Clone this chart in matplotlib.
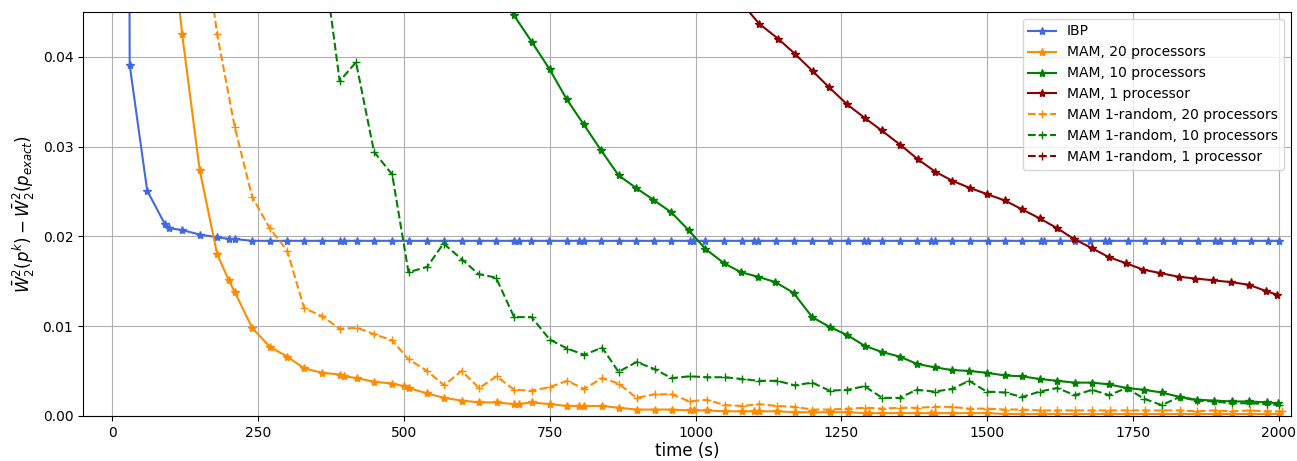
import matplotlib
matplotlib.use("Agg")
import matplotlib.pyplot as plt

# time stamps (s) and errors

ibp_t = [28, 30, 60, 90, 98, 120, 150, 180, 200, 210, 240,
         270, 300, 329, 360, 390, 398, 420, 449, 480, 508,
         540, 568, 599, 628, 658, 688, 697, 718, 748, 779,
         800, 808, 838, 868, 898, 928, 958, 990, 996, 1016,
         1049, 1079, 1100, 1107, 1138, 1168, 1199, 1230, 1261, 1289,
         1296, 1320, 1350, 1380, 1403, 1410, 1440, 1470, 1501, 1530,
         1560, 1592, 1598, 1624, 1650, 1677, 1702, 1709, 1741, 1771,
         1802, 1830, 1861, 1891, 1899, 1923, 1953, 1982, 2001]
ibp_v = [0.09, 0.0391, 0.0251, 0.0214, 0.0209, 0.0207, 0.0202, 0.0199, 0.0197, 0.0197, 0.0195,
         0.0195, 0.0195, 0.0195, 0.0195, 0.0195, 0.0195, 0.0195, 0.0195, 0.0195, 0.0195,
         0.0195, 0.0195, 0.0195, 0.0195, 0.0195, 0.0195, 0.0195, 0.0195, 0.0195, 0.0195,
         0.0195, 0.0195, 0.0195, 0.0195, 0.0195, 0.0195, 0.0195, 0.0195, 0.0195, 0.0195,
         0.0195, 0.0195, 0.0195, 0.0195, 0.0195, 0.0195, 0.0195, 0.0195, 0.0195, 0.0195,
         0.0195, 0.0195, 0.0195, 0.0195, 0.0195, 0.0195, 0.0195, 0.0195, 0.0195, 0.0195,
         0.0195, 0.0195, 0.0195, 0.0195, 0.0195, 0.0195, 0.0195, 0.0195, 0.0195, 0.0195,
         0.0195, 0.0195, 0.0195, 0.0195, 0.0195, 0.0195, 0.0195, 0.0195, 0.0195]

mam20_t = [90, 120, 150, 180, 200, 210, 240, 270, 300, 329,
           360, 390, 398, 420, 449, 480, 500, 508, 540, 569,
           599, 629, 659, 689, 698, 719, 750, 780, 801, 809,
           840, 868, 899, 930, 959, 990, 997, 1019, 1050, 1080,
           1100, 1109, 1140, 1170, 1200, 1230, 1262, 1290, 1298, 1320,
           1350, 1380, 1404, 1411, 1440, 1470, 1500, 1530, 1560, 1590,
           1598, 1620, 1650, 1680, 1703, 1710, 1740, 1770, 1800, 1830,
           1860, 1890, 1898, 1920, 1950, 1980, 2000]
mam20_v = [0.061, 0.0425, 0.0274, 0.0180, 0.0151, 0.0138, 0.0098, 0.0077, 0.0066, 0.0053,
           0.0048, 0.0046, 0.0044, 0.0042, 0.0038, 0.0036, 0.0033, 0.0031, 0.0025, 0.0020,
           0.0017, 0.0015, 0.0015, 0.0013, 0.0013, 0.0015, 0.0013, 0.0011, 0.0011, 0.0011,
           0.0011, 0.0009, 0.0007, 0.0007, 0.0007, 0.0006, 0.0006, 0.0006, 0.0005, 0.0005,
           0.0005, 0.0005, 0.0005, 0.0004, 0.0004, 0.0004, 0.0004, 0.0003, 0.0003, 0.0003,
           0.0003, 0.0003, 0.0003, 0.0003, 0.0003, 0.0003, 0.0003, 0.0002, 0.0002, 0.0002,
           0.0002, 0.0002, 0.0002, 0.0002, 0.0002, 0.0002, 0.0002, 0.0002, 0.0002, 0.0002,
           0.0002, 0.0002, 0.0002, 0.0002, 0.0002, 0.0002, 0.0002]

mam10_t = [658, 688, 719, 750, 779, 808, 838, 868, 898, 927,
           958, 988, 1017, 1049, 1078, 1107, 1137, 1168, 1200, 1230,
           1260, 1290, 1320, 1350, 1379, 1410, 1440, 1469, 1499, 1530,
           1560, 1590, 1620, 1650, 1680, 1709, 1739, 1769, 1799, 1830,
           1859, 1889, 1919, 1949, 1979, 1998]
mam10_v = [0.0485, 0.0447, 0.0417, 0.0386, 0.0353, 0.0325, 0.0296, 0.0268, 0.0254, 0.0241,
           0.0227, 0.0207, 0.0186, 0.0170, 0.0160, 0.0155, 0.0149, 0.0137, 0.0110, 0.0099,
           0.0090, 0.0078, 0.0071, 0.0066, 0.0058, 0.0054, 0.0051, 0.0050, 0.0048, 0.0045,
           0.0044, 0.0041, 0.0039, 0.0037, 0.0037, 0.0035, 0.0031, 0.0029, 0.0026, 0.0021,
           0.0018, 0.0017, 0.0016, 0.0016, 0.0015, 0.0014]

mam1_t = [1079, 1109, 1142, 1171, 1201, 1229, 1260, 1290, 1319, 1351,
          1381, 1411, 1440, 1470, 1500, 1530, 1560, 1590, 1620, 1649,
          1679, 1708, 1738, 1767, 1797, 1828, 1857, 1887, 1918, 1949,
          1978, 1997]
mam1_v = [0.0460, 0.0437, 0.0420, 0.0403, 0.0384, 0.0366, 0.0347, 0.0332, 0.0318, 0.0302,
          0.0286, 0.0272, 0.0262, 0.0254, 0.0247, 0.0240, 0.0230, 0.0220, 0.0209, 0.0197,
          0.0187, 0.0177, 0.0170, 0.0163, 0.0159, 0.0155, 0.0153, 0.0151, 0.0149, 0.0146,
          0.0139, 0.0135]

rnd20_t = [150, 180, 210, 240, 270, 300, 329, 360, 390, 420,
           449, 480, 508, 540, 569, 599, 629, 659, 689, 719,
           750, 780, 809, 840, 868, 899, 930, 959, 990, 1019,
           1050, 1080, 1109, 1140, 1170, 1200, 1230, 1262, 1290, 1320,
           1350, 1380, 1410, 1440, 1470, 1500, 1530, 1560, 1590, 1620,
           1650, 1680, 1710, 1740, 1770, 1800, 1830, 1860, 1890, 1920,
           1950, 1980, 2005]
rnd20_v = [0.057, 0.0425, 0.0322, 0.0244, 0.0209, 0.0184, 0.0120, 0.0111, 0.0097, 0.0098,
           0.0091, 0.0084, 0.0063, 0.0050, 0.0034, 0.0050, 0.0031, 0.0044, 0.0029, 0.0028,
           0.0032, 0.0039, 0.0030, 0.0042, 0.0036, 0.0020, 0.0024, 0.0024, 0.0016, 0.0018,
           0.0012, 0.0011, 0.0013, 0.0011, 0.0010, 0.0007, 0.0007, 0.0008, 0.0009, 0.0008,
           0.0009, 0.0009, 0.0010, 0.0010, 0.0008, 0.0008, 0.0007, 0.0007, 0.0006, 0.0006,
           0.0006, 0.0006, 0.0006, 0.0006, 0.0006, 0.0006, 0.0006, 0.0005, 0.0006, 0.0005,
           0.0006, 0.0005, 0.0005]

rnd10_t = [360, 390, 418, 449, 480, 508, 540, 568, 600, 628,
           658, 689, 719, 750, 780, 809, 840, 868, 899, 930,
           959, 990, 1019, 1050, 1080, 1109, 1140, 1170, 1200, 1230,
           1260, 1290, 1320, 1350, 1379, 1410, 1440, 1469, 1499, 1530,
           1560, 1590, 1620, 1650, 1680, 1709, 1739, 1769, 1799, 1830,
           1859, 1889, 1919, 1949, 1979, 2000]
rnd10_v = [0.052, 0.0373, 0.0394, 0.0294, 0.0269, 0.0160, 0.0166, 0.0192, 0.0174, 0.0158,
           0.0154, 0.0110, 0.0110, 0.0085, 0.0075, 0.0068, 0.0076, 0.0049, 0.0060, 0.0052,
           0.0042, 0.0044, 0.0043, 0.0043, 0.0041, 0.0039, 0.0039, 0.0034, 0.0037, 0.0028,
           0.0029, 0.0033, 0.0020, 0.0020, 0.0029, 0.0027, 0.0030, 0.0039, 0.0027, 0.0026,
           0.0021, 0.0027, 0.0031, 0.0023, 0.0029, 0.0023, 0.0031, 0.0019, 0.0012, 0.0021,
           0.0017, 0.0016, 0.0014, 0.0014, 0.0013, 0.0012]

# 1-random on one processor never gets below the plotted range
rnd1_t = []
rnd1_v = []


fig = plt.figure(figsize=(12.97, 4.61), dpi=100)
ax = fig.add_axes([0.064, 0.098, 0.931, 0.876])

ax.plot(ibp_t, ibp_v, color="royalblue", marker="*", label="IBP")
ax.plot(mam20_t, mam20_v, color="darkorange", marker="*", label="MAM, 20 processors")
ax.plot(mam10_t, mam10_v, color="green", marker="*", label="MAM, 10 processors")
ax.plot(mam1_t, mam1_v, color="darkred", marker="*", label="MAM, 1 processor")
ax.plot(rnd20_t, rnd20_v, color="darkorange", marker="+", linestyle="--",
        label="MAM 1-random, 20 processors")
ax.plot(rnd10_t, rnd10_v, color="green", marker="+", linestyle="--",
        label="MAM 1-random, 10 processors")
ax.plot(rnd1_t, rnd1_v, color="darkred", marker="+", linestyle="--",
        label="MAM 1-random, 1 processor")

ax.set_xlim(-50, 2020)
ax.set_ylim(0, 0.045)
ax.set_xticks([0, 250, 500, 750, 1000, 1250, 1500, 1750, 2000])
ax.set_yticks([0.0, 0.01, 0.02, 0.03, 0.04])
ax.set_xlabel("time (s)", fontsize=12, labelpad=2)
ax.set_ylabel(r"$\bar{W}_2^2(p^k) - \bar{W}_2^2(p_{exact})$", fontsize=12)
ax.grid(True)
ax.legend(loc="upper right")

fig.savefig("out.png")
